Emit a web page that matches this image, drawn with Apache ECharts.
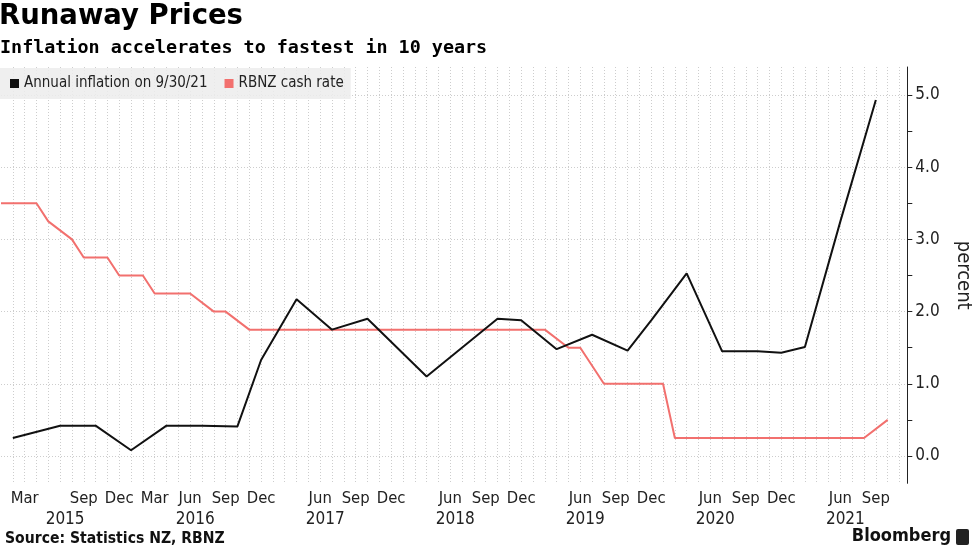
<!DOCTYPE html>
<html>
<head>
<meta charset="utf-8">
<script src="https://cdn.jsdelivr.net/npm/echarts@6.0.0/dist/echarts.min.js"></script>
<style>
html,body{margin:0;padding:0;background:#fff;}
#chart{width:977px;height:549px;}
</style>
</head>
<body>
<div id="chart"></div>
<script>
// ---------- data ----------
const titleText = 'Runaway Prices';
const subtitleText = 'Inflation accelerates to fastest in 10 years';
const sourceText = 'Source: Statistics NZ, RBNZ';
const brandText = 'Bloomberg';
const seriesNames = ['Annual inflation on 9/30/21', 'RBNZ cash rate'];

// observation slots (union of release / decision dates), month tick labels
const monthLabels = [
  '', '', 'Mar', '', '', '', '', 'Sep', '', '',
  'Dec', '', '', 'Mar', '', '', 'Jun', '', '', 'Sep',
  '', '', 'Dec', '', '', '', '', 'Jun', '', '',
  'Sep', '', '', 'Dec', '', '', '', '', 'Jun', '',
  '', 'Sep', '', '', 'Dec', '', '', '', '', 'Jun',
  '', '', 'Sep', '', '', 'Dec', '', '', '', '',
  'Jun', '', '', 'Sep', '', '', 'Dec', '', '', '',
  '', 'Jun', '', '', 'Sep', '', '', ''
];
const yearLabels = [
  '', '', '', '', '', '2015', '', '', '', '',
  '', '', '', '', '', '', '2016', '', '', '',
  '', '', '', '', '', '', '', '2017', '', '',
  '', '', '', '', '', '', '', '', '2018', '',
  '', '', '', '', '', '', '', '', '', '2019',
  '', '', '', '', '', '', '', '', '', '',
  '2020', '', '', '', '', '', '', '', '', '',
  '', '2021', '', '', '', '', '', ''
];
const categories = monthLabels.map((_, i) => 'slot' + i);

const inflation = [
  null, 0.25, null, null, null, 0.42, null, null, 0.42, null,
  null, 0.08, null, null, 0.42, null, null, 0.42, null, null,
  0.41, null, 1.33, null, null, 2.17, null, null, 1.75, null,
  null, 1.9, null, null, null, null, 1.1, null, null, null,
  null, null, 1.9, null, 1.88, null, null, 1.48, null, null,
  1.68, null, null, 1.46, null, 1.88, null, null, 2.53, null,
  null, 1.45, null, null, 1.45, null, 1.43, null, 1.51, null,
  null, 3.25, null, null, 4.93, null, null, null
];
const cashRate = [
  3.5, null, 3.5, 3.5, 3.25, null, 3.0, 2.75, null, 2.75,
  2.5, null, 2.5, 2.25, null, 2.25, 2.25, null, 2.0, 2.0,
  null, 1.75, null, 1.75, 1.75, null, 1.75, 1.75, null, 1.75,
  1.75, null, 1.75, 1.75, 1.75, 1.75, null, 1.75, 1.75, 1.75,
  1.75, 1.75, null, 1.75, null, 1.75, 1.75, null, 1.5, 1.5,
  null, 1.0, 1.0, null, 1.0, null, 1.0, 0.25, null, 0.25,
  0.25, null, 0.25, 0.25, null, 0.25, null, 0.25, null, 0.25,
  0.25, null, 0.25, 0.25, null, 0.5, null, null
];
const yTickValues = [0, 0.5, 1, 1.5, 2, 2.5, 3, 3.5, 4, 4.5, 5];
const yLabelValues = [0, 1, 2, 3, 4, 5];
const yMin = -0.378, yMax = 5.388;

// ---------- styles ----------
const COND = "'DejaVu Sans Condensed', 'DejaVu Sans', sans-serif";
const gridLine = { type: [1, 2], color: '#cdcdcd', width: 1 };
const lastSlot = categories.length - 1;

const chart = echarts.init(document.getElementById('chart'), null, { renderer: 'canvas' });
chart.setOption({
  animation: false,
  backgroundColor: '#fff',
  title: [
    { text: titleText, left: -1, top: 3, padding: 0,
      textStyle: { fontFamily: "'DejaVu Sans', sans-serif", fontWeight: 'bold', fontSize: 27.5, color: '#000' } },
    { text: subtitleText, left: 0, top: 39, padding: 0,
      textStyle: { fontFamily: "'DejaVu Sans Mono', monospace", fontWeight: 'bold', fontSize: 18.4, color: '#000' } },
    { text: sourceText, left: 5, top: 531, padding: 0,
      textStyle: { fontFamily: COND, fontWeight: 'bold', fontSize: 15.6, color: '#111' } },
    { text: brandText, right: 26, top: 527, padding: 0,
      textStyle: { fontFamily: COND, fontWeight: 'bold', fontSize: 18, color: '#111' } }
  ],
  graphic: [
    { type: 'rect', left: 956, top: 529, shape: { width: 13, height: 16, r: 2 }, style: { fill: '#222' } }
  ],
  legend: {
    data: seriesNames,
    left: 0, top: 68,
    icon: 'rect', itemWidth: 9, itemHeight: 9, itemGap: 17,
    padding: [8, 7, 8, 10],
    backgroundColor: 'rgba(236,236,236,0.85)',
    textStyle: { fontFamily: COND, fontSize: 15, color: '#222' }
  },
  grid: { left: 1, top: 67, width: 910.3, height: 416.3, containLabel: false, outerBoundsMode: 'none' },
  xAxis: [
    {
      type: 'category', data: categories, boundaryGap: false,
      axisLine: { show: false }, axisTick: { show: false },
      axisLabel: { interval: 0, margin: 7, fontFamily: COND, fontSize: 16.5, color: '#222',
        formatter: (v, i) => monthLabels[i] },
      splitLine: { show: true, interval: (i) => i > 0 && i < lastSlot, lineStyle: gridLine }
    },
    {
      type: 'category', data: categories, boundaryGap: false, position: 'bottom',
      axisLine: { show: false }, axisTick: { show: false }, splitLine: { show: false },
      axisLabel: { interval: 0, margin: 28, fontFamily: COND, fontSize: 17, color: '#222',
        formatter: (v, i) => yearLabels[i] ? '{y|' + yearLabels[i] + '}' : '',
        rich: { y: { fontFamily: COND, fontSize: 17, color: '#222', padding: [0, 0, 0, 10] } } }
    }
  ],
  yAxis: [
    {
      type: 'value', position: 'right', offset: -4, min: yMin, max: yMax,
      axisLine: { show: true, lineStyle: { color: '#222', width: 1 } },
      axisTick: { show: true, length: 5, customValues: yTickValues, lineStyle: { color: '#222' } },
      axisLabel: { customValues: yLabelValues, margin: 8, fontFamily: COND, fontSize: 17, color: '#222',
        formatter: (v) => v.toFixed(1) },
      splitLine: { show: false },
      name: 'percent', nameLocation: 'middle', nameRotate: -90, nameGap: 46,
      nameTextStyle: { fontFamily: COND, fontSize: 20, color: '#222' }
    },
    {
      type: 'value', position: 'right', offset: -4, min: yMin, max: yMax,
      axisLine: { show: false }, axisTick: { show: false, customValues: yLabelValues },
      axisLabel: { show: false },
      splitLine: { show: true, lineStyle: gridLine }
    }
  ],
  series: [
    { name: seriesNames[1], type: 'line', data: cashRate, connectNulls: true, showSymbol: false,
      symbol: 'none', color: '#f2706e', lineStyle: { color: '#f2706e', width: 2 }, z: 2 },
    { name: seriesNames[0], type: 'line', data: inflation, connectNulls: true, showSymbol: false,
      symbol: 'none', color: '#111', lineStyle: { color: '#111', width: 2 }, z: 3 }
  ]
});
</script>
</body>
</html>
